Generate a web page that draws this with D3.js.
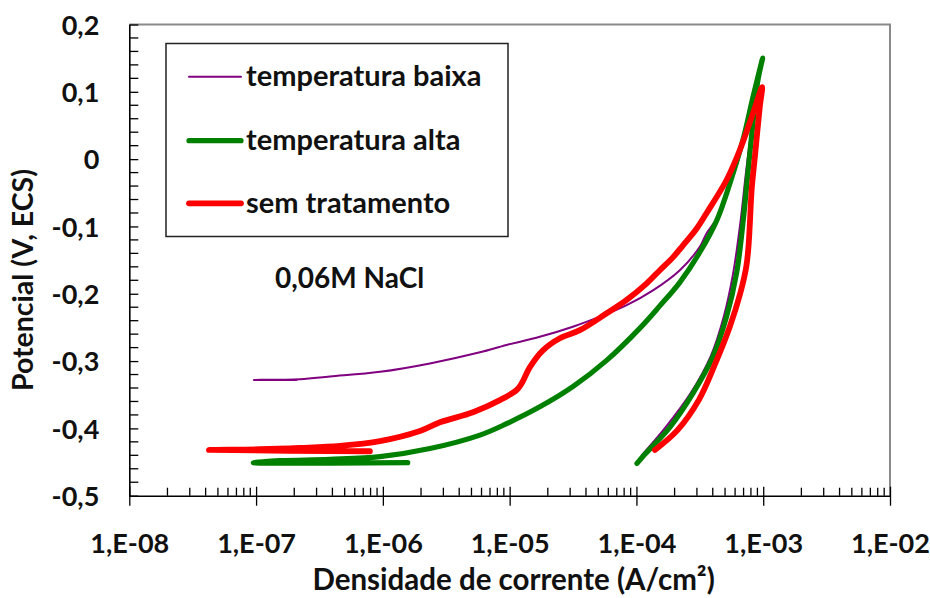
<!DOCTYPE html>
<html>
<head>
<meta charset="utf-8">
<script src="https://cdn.jsdelivr.net/npm/d3@7"></script>
<style>
  body { margin: 0; background: #fff; }
  svg text { font-family: "Lato", "Open Sans", sans-serif; font-weight: 700; fill: #111; }
</style>
</head>
<body>
<svg id="chart" width="930" height="598"></svg>
<script>
// series: [current density (A/cm2), potential (V, ECS)]
const seriesNames = ["temperatura baixa", "temperatura alta", "sem tratamento"];
const seriesColors = ["#800080", "#008000", "#ff0000"];
const seriesWidths = [2, 5.2, 5.8];

const tempBaixa = [
    [2.1e-7, -0.328], [9.6e-8, -0.328], [2.22e-7, -0.327], [3.83e-7, -0.323],
    [9.5e-7, -0.316], [2.35e-6, -0.3035], [5.83e-6, -0.287], [9.46e-6, -0.276],
    [1.73e-5, -0.264], [3.15e-5, -0.249], [5.15e-5, -0.234], [8.38e-5, -0.217],
    [1.35e-4, -0.195], [2.2e-4, -0.165], [3.17e-4, -0.130], [3.58e-4, -0.110],
    [4.3e-4, -0.088], [5.46e-4, -0.039], [6.92e-4, 0.021], [8.3e-4, 0.080],
    [8.9e-4, 0.103],
    [8.15e-4, 0.051], [7.3e-4, -0.021], [6.6e-4, -0.095], [5.8e-4, -0.169],
    [4.9e-4, -0.233], [3.85e-4, -0.293], [2.67e-4, -0.348], [1.72e-4, -0.397],
    [1.1e-4, -0.440]
];

const tempAlta = [
    [1.57e-6, -0.451], [9.5e-8, -0.451], [1.54e-7, -0.448], [3.83e-7, -0.446],
    [9.5e-7, -0.442], [2.35e-6, -0.430], [5.83e-6, -0.410], [9.46e-6, -0.393],
    [1.73e-5, -0.368], [3.15e-5, -0.338], [5.82e-5, -0.299], [1.066e-4, -0.251],
    [1.53e-4, -0.218], [2.2e-4, -0.183], [3.17e-4, -0.138], [4.3e-4, -0.091],
    [5.46e-4, -0.036], [6.92e-4, 0.0285], [8.3e-4, 0.092], [9.9e-4, 0.150],
    [9.1e-4, 0.118], [8.3e-4, 0.054], [7.57e-4, -0.021], [6.92e-4, -0.095],
    [6.17e-4, -0.169], [5.14e-4, -0.234], [4.0e-4, -0.294], [2.79e-4, -0.348],
    [1.84e-4, -0.398], [1.12e-4, -0.442], [1.01e-4, -0.452]
];

const semTratamento = [
    [7.9e-7, -0.434], [4.25e-8, -0.432], [1.07e-7, -0.431], [2.22e-7, -0.429],
    [4.59e-7, -0.426], [9.5e-7, -0.419], [1.96e-6, -0.404], [2.82e-6, -0.391],
    [5.14e-6, -0.376], [8.37e-6, -0.358], [1.135e-5, -0.343], [1.245e-5, -0.333],
    [1.445e-5, -0.309], [1.83e-5, -0.284], [2.49e-5, -0.266], [3.58e-5, -0.254],
    [5.82e-5, -0.229], [8.38e-5, -0.209], [1.2e-4, -0.185], [1.53e-4, -0.165],
    [1.94e-4, -0.146], [2.33e-4, -0.128], [2.99e-4, -0.103], [3.58e-4, -0.080],
    [5.14e-4, -0.031], [6.55e-4, 0.014], [8.3e-4, 0.068], [9.8e-4, 0.107],
    [9.4e-4, 0.078], [8.6e-4, 0.004], [8.1e-4, -0.046], [7.85e-4, -0.095],
    [7.65e-4, -0.130], [7.35e-4, -0.160], [6.6e-4, -0.199], [5.45e-4, -0.249],
    [4.2e-4, -0.303], [3.1e-4, -0.358], [2.1e-4, -0.403], [1.4e-4, -0.432]
];

const xTicks = [1e-8, 1e-7, 1e-6, 1e-5, 1e-4, 1e-3, 1e-2];
const xTickLabels = ["1,E-08", "1,E-07", "1,E-06", "1,E-05", "1,E-04", "1,E-03", "1,E-02"];
const yTicks = [0.2, 0.1, 0, -0.1, -0.2, -0.3, -0.4, -0.5];
const yTickLabels = ["0,2", "0,1", "0", "-0,1", "-0,2", "-0,3", "-0,4", "-0,5"];

const svg = d3.select("#chart");
const plot = { left: 129.3, right: 890, top: 24.5, bottom: 495.7 };

const x = d3.scaleLog().domain([1e-8, 1e-2]).range([plot.left, plot.right]);
const y = d3.scaleLinear().domain([-0.5, 0.2]).range([plot.bottom, plot.top]);

// plot area border (top / right)
svg.append("path")
    .attr("d", `M${plot.left},${plot.top}H${plot.right}V${plot.bottom}`)
    .attr("fill", "none")
    .attr("stroke", "#8a8a8a")
    .attr("stroke-width", 2);

// minor ticks
const yMinor = d3.range(-0.48, 0.2, 0.02).filter(v => Math.abs(Math.round(v * 10) - v * 10) > 0.01);
svg.append("g").selectAll("line").data(yMinor).enter().append("line")
    .attr("x1", plot.left).attr("x2", plot.left + 9)
    .attr("y1", d => y(d)).attr("y2", d => y(d))
    .attr("stroke", "#000").attr("stroke-width", 1.3);

const xMinor = [];
for (let e = -8; e < -2; e++) for (let m = 2; m <= 9; m++) xMinor.push(m * Math.pow(10, e));
svg.append("g").selectAll("line").data(xMinor).enter().append("line")
    .attr("x1", d => x(d)).attr("x2", d => x(d))
    .attr("y1", plot.bottom - 8).attr("y2", plot.bottom)
    .attr("stroke", "#000").attr("stroke-width", 1.3);

// axes
const xAxis = d3.axisBottom(x).tickValues(xTicks).tickFormat((d, i) => xTickLabels[i])
    .tickSizeInner(10).tickSizeOuter(0);
const gx = svg.append("g").attr("transform", `translate(0,${plot.bottom})`).call(xAxis);
gx.selectAll(".tick line").attr("y1", -9).attr("stroke-width", 1.3);
gx.select(".domain").attr("stroke-width", 1.6);
gx.selectAll("text").attr("font-size", 27).attr("fill", "#111").attr("dy", 0).attr("y", 57);

const yAxis = d3.axisLeft(y).tickValues(yTicks).tickFormat((d, i) => yTickLabels[i])
    .tickSizeInner(11).tickSizeOuter(0);
const gy = svg.append("g").attr("transform", `translate(${plot.left},0)`).call(yAxis);
gy.selectAll(".tick line").attr("x2", 9).attr("stroke-width", 1.3);
gy.select(".domain").attr("stroke-width", 1.6);
gy.selectAll("text").attr("font-size", 27).attr("fill", "#111").attr("x", -30).attr("dy", "0.36em");
gx.attr("font-family", null).attr("font-size", null);
gy.attr("font-family", null).attr("font-size", null);

// series
const line = d3.line()
    .x(d => x(d[0]))
    .y(d => y(d[1]))
    .curve(d3.curveCatmullRom.alpha(0.5));

[tempBaixa, tempAlta, semTratamento].forEach((data, i) => {
    svg.append("path")
        .datum(data)
        .attr("d", line)
        .attr("fill", "none")
        .attr("stroke", seriesColors[i])
        .attr("stroke-width", seriesWidths[i])
        .attr("stroke-linecap", "round")
        .attr("stroke-linejoin", "round");
});

// legend
const legend = svg.append("g");
legend.append("rect")
    .attr("x", 166).attr("y", 43.5).attr("width", 342).attr("height", 193)
    .attr("fill", "#fff").attr("stroke", "#222").attr("stroke-width", 1.5);
const legendY = [76.7, 140.7, 203.3];
seriesNames.forEach((name, i) => {
    legend.append("line")
        .attr("x1", 189).attr("x2", 241)
        .attr("y1", legendY[i]).attr("y2", legendY[i])
        .attr("stroke", seriesColors[i])
        .attr("stroke-width", seriesWidths[i])
        .attr("stroke-linecap", "round");
    legend.append("text")
        .attr("x", 246).attr("y", legendY[i] + 9.5)
        .attr("font-size", 29)
        .text(name);
});

// annotation
svg.append("text")
    .attr("x", 275).attr("y", 288)
    .attr("font-size", 28)
    .text("0,06M NaCl");

// axis titles
svg.append("text")
    .attr("x", (plot.left + plot.right) / 2 + 4).attr("y", 590)
    .attr("text-anchor", "middle")
    .attr("font-size", 29.5)
    .text("Densidade de corrente (A/cm²)");

svg.append("text")
    .attr("transform", "translate(33,280) rotate(-90)")
    .attr("text-anchor", "middle")
    .attr("font-size", 28.5)
    .text("Potencial (V, ECS)");
</script>
</body>
</html>
